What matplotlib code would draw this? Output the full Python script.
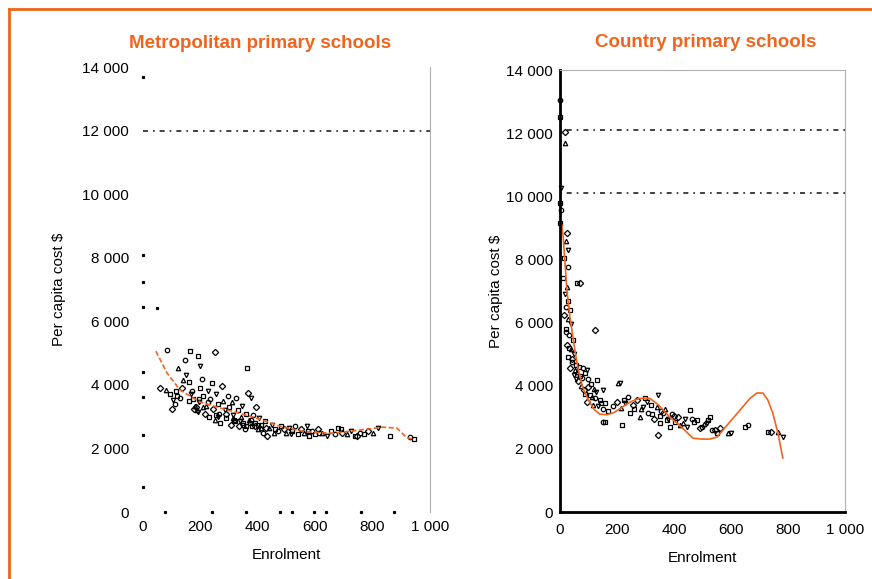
import matplotlib.pyplot as plt
from matplotlib.lines import Line2D
from matplotlib.ticker import FuncFormatter, MultipleLocator

plt.rcParams['font.family'] = ['Liberation Sans', 'DejaVu Sans']

ORANGE = '#f0641e'

# Metropolitan schools: enrolment vs per capita cost
metro_enrol = [84, 164, 251, 123, 199, 362, 146, 190, 60, 80, 105, 95, 110, 120, 135,
               140, 150, 160, 170, 175, 185, 188, 195, 200, 205, 210, 215, 220, 225,
               230, 235, 240, 245, 250, 255, 260, 265, 270, 275, 280, 285, 290, 295,
               300, 305, 310, 315, 320, 325, 330, 335, 340, 345, 350, 355, 360, 365,
               370, 375, 380, 385, 390, 395, 400, 405, 410, 418, 425, 432, 440, 450,
               460, 470, 480, 490, 500, 510, 520, 530, 540, 550, 560, 570, 580, 590,
               600, 610, 625, 640, 655, 670, 680, 695, 710, 725, 740, 755, 770, 785,
               800, 820, 860, 930, 945, 178, 182, 192, 160, 130, 115, 100, 208, 262,
               318, 348, 372, 392, 412, 168, 196, 228, 256, 288, 312, 338, 358, 378,
               402, 428, 455, 515, 575, 615, 690, 745]
metro_cost = [5100, 5060, 5030, 4530, 4590, 4530, 4780, 4900, 3900, 3850, 3520, 3700,
              3400, 3650, 3900, 4150, 4300, 4100, 3800, 3550, 3300, 3200, 3450, 3900,
              4200, 3650, 3100, 3350, 3800, 3000, 3550, 4050, 3250, 2900, 3700, 3400,
              3100, 2800, 3950, 3500, 3200, 2950, 3650, 3300, 2750, 3450, 3050, 2850,
              3600, 3200, 2700, 3000, 3350, 2800, 2600, 3100, 3750, 2900, 3600, 2700,
              3050, 2800, 3300, 2600, 2950, 2750, 2500, 2850, 2400, 2650, 2750, 2600,
              2550, 2700, 2600, 2500, 2650, 2550, 2700, 2450, 2600, 2500, 2700, 2400,
              2550, 2450, 2600, 2500, 2400, 2550, 2450, 2650, 2500, 2450, 2550, 2400,
              2500, 2450, 2550, 2500, 2650, 2400, 2360, 2300, 3250, 3350, 3150, 3500,
              3600, 3800, 3250, 3300, 3000, 2900, 2750, 2800, 2700, 2650, 3700, 3550,
              3450, 3050, 3100, 2950, 2850, 2700, 2900, 2750, 2650, 2500, 2450, 2550,
              2500, 2600, 2400]

# stray single-pixel marks along the edges of the metro plot
metro_edge_enrol = [0, 0, 0, 0, 49, 0, 0, 0, 0, 77, 240, 359, 477, 519, 596, 638, 760, 875]
metro_edge_cost = [13700, 8080, 7230, 6450, 6420, 4400, 3620, 2420, 790,
                   0, 0, 0, 0, 0, 0, 0, 0, 0]

metro_trend_enrol = [45, 84, 129, 199, 293, 383, 488, 571, 662, 756, 836, 885, 920, 941]
metro_trend_cost = [5060, 4370, 3840, 3460, 3210, 2990, 2670, 2520, 2480, 2580, 2670,
                    2640, 2330, 2300]

# Country schools
country_enrol = [0, 0, 18, 18, 5, 0, 3, 0, 25, 20, 28, 15, 28, 60, 70, 25, 18, 30, 22,
                 35, 15, 28, 40, 20, 32, 45, 25, 38, 50, 30, 42, 55, 35, 60, 48, 70, 80,
                 90, 65, 75, 95, 130, 100, 110, 85, 120, 151, 105, 125, 140, 95, 115,
                 135, 160, 150, 170, 123, 204, 211, 158, 151, 218, 200, 215, 230, 246,
                 240, 260, 270, 280, 291, 300, 310, 320, 330, 340, 345, 350, 361, 351,
                 344, 370, 380, 386, 395, 405, 415, 432, 445, 456, 465, 480, 490, 505,
                 516, 526, 535, 551, 560, 590, 600, 649, 660, 730, 740, 765, 782,
                 12, 22, 33, 44, 52, 58, 68, 78, 88, 98, 112, 128, 145, 185, 225, 255,
                 285, 305, 325, 355, 375, 400, 420, 440, 470, 500, 520, 545]
country_cost = [13040, 12500, 12030, 11680, 10250, 9780, 9560, 9150, 8830, 8600, 8290,
                8050, 7750, 7250, 7250, 7120, 6900, 6700, 6500, 6400, 6250, 6100, 5950,
                5800, 5600, 5450, 5300, 5150, 5000, 4900, 4750, 4650, 4550, 4450, 4350,
                4300, 4550, 4400, 4150, 4000, 4490, 4180, 4200, 4050, 3850, 3900, 3860,
                3700, 3600, 3550, 3500, 3400, 3350, 3450, 3250, 3200, 5760, 4080, 4080,
                2850, 2850, 2750, 3500, 3300, 3450, 3130, 3650, 3250, 3550, 3000, 3330,
                3600, 3150, 3400, 2950, 3330, 3700, 3050, 3130, 2810, 2440, 3250, 2950,
                2690, 3100, 2850, 3000, 2810, 2700, 3230, 2950, 2910, 2650, 2800, 2810,
                3000, 2600, 2500, 2650, 2500, 2500, 2690, 2750, 2530, 2530, 2530, 2370,
                7400, 5700, 5200, 4850, 4500, 4200, 4600, 4250, 3750, 3950, 3650, 3800,
                3450, 3350, 3550, 3400, 3250, 3500, 3100, 3200, 2900, 3050, 2750, 2950,
                2850, 2700, 2900, 2600]

country_trend_enrol = [7, 12, 18, 25, 35, 45, 55, 65, 80, 100, 120, 140, 165, 190, 220,
                       250, 280, 316, 345, 386, 420, 467, 500, 525, 551, 596, 632, 667,
                       691, 712, 730, 747, 765, 782]
country_trend_cost = [9100, 8700, 7900, 7000, 6200, 5600, 5000, 4500, 3950, 3550, 3250,
                      3100, 3080, 3150, 3330, 3500, 3600, 3600, 3400, 3000, 2750, 2340,
                      2310, 2310, 2370, 2850, 3230, 3600, 3770, 3770, 3540, 3130, 2500,
                      1710]

marker_shapes = ['o', 's', 'D', '^', 'v', 's']


def thousands(v, pos):
    return f'{int(v):,}'.replace(',', ' ')


def draw_points(ax, xs, ys):
    for i, (x, y) in enumerate(zip(xs, ys)):
        ax.plot(x, y, marker=marker_shapes[i % len(marker_shapes)], ms=3.2,
                mfc='none', mec='black', mew=0.9, ls='none', clip_on=False)


def style_axis(ax, title, title_x, title_pad, ypad, xpad, ylabel_pad):
    ax.set_xlim(0, 1000)
    ax.set_ylim(0, 14000)
    ax.xaxis.set_major_locator(MultipleLocator(200))
    ax.yaxis.set_major_locator(MultipleLocator(2000))
    ax.xaxis.set_major_formatter(FuncFormatter(thousands))
    ax.yaxis.set_major_formatter(FuncFormatter(thousands))
    ax.tick_params(length=0, labelsize=11)
    ax.tick_params(axis='y', pad=ypad)
    ax.tick_params(axis='x', pad=xpad)
    ax.set_xlabel('Enrolment', fontsize=11, labelpad=10)
    ax.set_ylabel('Per capita cost $', fontsize=11, labelpad=ylabel_pad)
    ax.set_title(title, color=ORANGE, fontsize=13.5, fontweight='bold',
                 pad=title_pad, x=title_x)


fig = plt.figure(figsize=(8.72, 5.79), dpi=100)

# orange frame round the figure (left and top edges)
fig.add_artist(Line2D([8.5 / 872, 8.5 / 872], [0, 1 - 8.5 / 579], color=ORANGE, lw=2))
fig.add_artist(Line2D([8.5 / 872, 1], [1 - 8.5 / 579, 1 - 8.5 / 579], color=ORANGE, lw=2))

ax1 = fig.add_axes([0.164, 0.1157, 0.329, 0.7683])
ax2 = fig.add_axes([0.642, 0.1157, 0.327, 0.7632])

# Metropolitan
style_axis(ax1, 'Metropolitan primary schools', 0.408, 13.5, 10, 6, 12)
for side in ['left', 'top', 'bottom']:
    ax1.spines[side].set_visible(False)
ax1.spines['right'].set_color('#b0b0b0')
ax1.axhline(12000, color='#222222', lw=1.2, ls=(0, (3, 3, 1, 3)))
draw_points(ax1, metro_enrol, metro_cost)
ax1.plot(metro_edge_enrol, metro_edge_cost, 's', ms=1.3, color='black', ls='none',
         clip_on=False)
ax1.plot(metro_trend_enrol, metro_trend_cost, color=ORANGE, lw=1.2, ls=(0, (3, 1.5)))

# Country
style_axis(ax2, 'Country primary schools', 0.512, 17, 5, 8, 2)
ax2.spines['left'].set_linewidth(2)
ax2.spines['bottom'].set_linewidth(2)
ax2.spines['top'].set_color('#b0b0b0')
ax2.spines['right'].set_color('#b0b0b0')
ax2.axhline(12100, color='#222222', lw=1.2, ls=(0, (1, 3, 3, 3)))
ax2.axhline(10100, color='#222222', lw=1.2, ls=(0, (1, 3, 3, 3)))
draw_points(ax2, country_enrol, country_cost)
ax2.plot(country_trend_enrol, country_trend_cost, color=ORANGE, lw=1.2)

fig.savefig('out.png', dpi=100)
